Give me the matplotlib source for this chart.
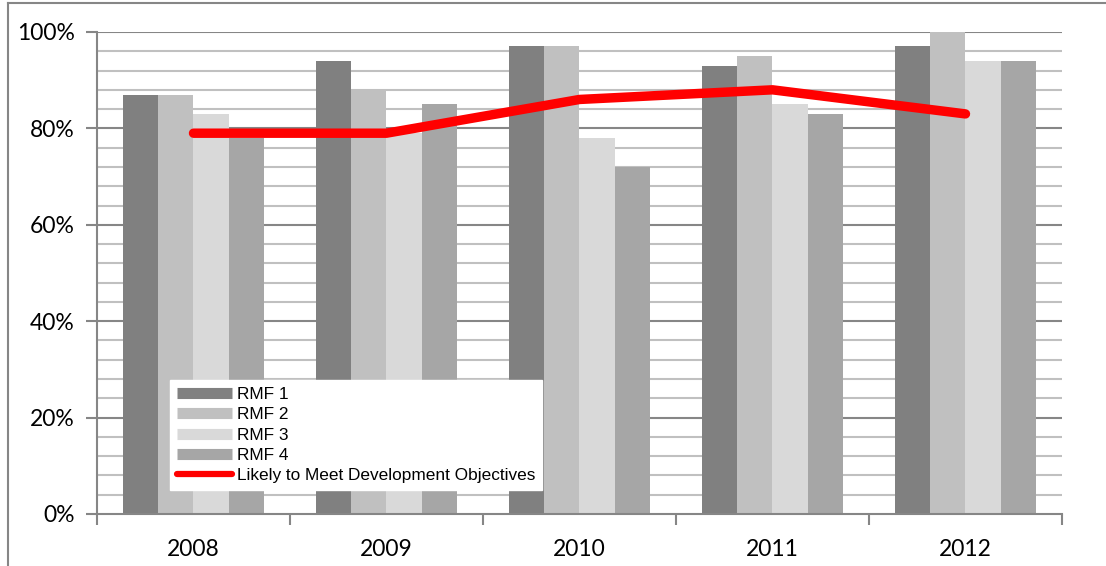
import numpy as np
import matplotlib.pyplot as plt
from matplotlib.lines import Line2D

years = ['2008', '2009', '2010', '2011', '2012']
rmf1 = [87, 94, 97, 93, 97]
rmf2 = [87, 88, 97, 95, 100]
rmf3 = [83, 79, 78, 85, 94]
rmf4 = [78, 85, 72, 83, 94]
likely = [79, 79, 86, 88, 83]

series = [('RMF 1', rmf1, '#808080'),
          ('RMF 2', rmf2, '#c0c0c0'),
          ('RMF 3', rmf3, '#d9d9d9'),
          ('RMF 4', rmf4, '#a6a6a6')]

fig = plt.figure(figsize=(11.06, 5.66), dpi=100)
ax = fig.add_axes([0.0877, 0.0919, 0.8725, 0.8516])

# outer frame lines (left and top)
fig.add_artist(Line2D([0.0075, 0.0075], [0, 0.995], color='#868686', lw=1.5,
                      transform=fig.transFigure))
fig.add_artist(Line2D([0.0075, 1], [0.995, 0.995], color='#868686', lw=1.5,
                      transform=fig.transFigure))

x = np.arange(len(years))
w = 0.182
for i, (name, vals, col) in enumerate(series):
    ax.bar(x + (i - 1.5) * w, vals, width=w, color=col, zorder=2)

ax.plot(x, likely, color='#ff0000', lw=6.8, solid_capstyle='round', zorder=3)

# gridlines: light every 4%, darker every 20%
for v in range(4, 101, 4):
    col = '#868686' if v % 20 == 0 else '#c0c0c0'
    ax.axhline(v, color=col, lw=1.5, zorder=1)

ax.set_xlim(-0.5, len(years) - 0.5)
ax.set_ylim(0, 100)
ax.set_yticks(range(0, 101, 20))
ax.set_yticklabels(['%d%%' % v for v in range(0, 101, 20)])
ax.set_xticks(x)
ax.set_xticklabels(years)
ax.set_xticks(np.arange(-0.5, len(years)), minor=True)
ax.tick_params(axis='x', which='major', length=0, pad=18)
ax.tick_params(axis='x', which='minor', length=8, width=1.5, color='#868686')
ax.tick_params(axis='y', length=8, width=1.5, color='#868686', pad=8)
for lab in ax.get_xticklabels() + ax.get_yticklabels():
    lab.set_fontfamily('Lato')
    lab.set_fontsize(16.5)

for s in ['top', 'right']:
    ax.spines[s].set_visible(False)
for s in ['left', 'bottom']:
    ax.spines[s].set_color('#868686')
    ax.spines[s].set_linewidth(1.5)
    ax.spines[s].set_zorder(4)

handles = [Line2D([], [], color=col, lw=8, solid_capstyle='butt')
           for _, _, col in series]
handles.append(Line2D([], [], color='#ff0000', lw=4.5, solid_capstyle='round'))
labels = [s[0] for s in series] + ['Likely to Meet Development Objectives']
leg = ax.legend(handles, labels, loc='lower left',
                bbox_to_anchor=(0.0756, 0.05), borderaxespad=0,
                prop={'family': 'Liberation Sans', 'size': 12.4},
                frameon=True, fancybox=False, framealpha=1,
                edgecolor='white', handlelength=3.2, handletextpad=0.3,
                labelspacing=0.3, borderpad=0.4)
leg.set_zorder(5)

fig.savefig('out.png', dpi=100)
